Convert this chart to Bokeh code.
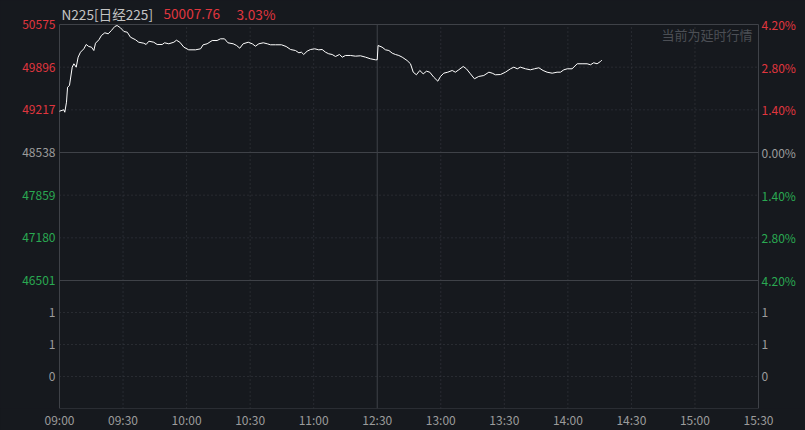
from bokeh.plotting import figure
from bokeh.models import Range1d, FixedTicker, GlobalInlineStyleSheet
from bokeh.core.properties import value
from bokeh.embed import file_html
from bokeh.resources import INLINE

# ---------------- data ----------------
index_name = "N225[日经225]"
prev_close = 48538
watermark = "当前为延时行情"

# trading minutes since 09:00 (11:30 and 12:30 share index 150)
minutes = [0, 2.0, 2.5, 3.3, 3.8, 4.7, 6.0, 6.8, 7.9, 8.8,
           9.9, 11.5, 12.6, 13.8, 15.1, 16.2, 17.0, 18.6, 19.8, 21.4,
           23.0, 24.5, 26.1, 27.2, 28.8, 30.4, 32.0, 33.5, 35.9, 37.4,
           39.8, 40.9, 42.2, 44.5,
           46.1, 48.5, 49.6, 51.6, 54.0, 55.2, 56.8, 58.7, 61.0, 64.2,
           66.6, 67.8, 69.7, 72.1, 74.4, 76.0, 77.9, 79.5, 82.0, 83.6,
           85.1, 86.7, 89.1, 91.0, 92.5, 94.1, 96.2, 98.1,
           99.6, 102.0, 104.8, 107.0, 109.1, 111.4, 113.0, 114.2, 115.3, 116.9,
           118.5, 120.5, 122.4, 124.0, 125.6, 127.1, 128.7, 130.3, 132.2, 133.5,
           135.0, 137.4, 139.7, 142.1, 144.5, 146.8, 149.2, 150.0,
           150.4, 152.3, 153.9, 155.5, 157.1, 158.6, 160.2, 161.8, 164.1, 165.7,
           167.0, 168.5, 170.1, 171.7, 173.3, 174.8, 176.7, 178.6, 179.9, 181.4,
           183.3, 185.4, 186.9, 188.5, 190.6, 192.1, 194.0, 195.9, 197.9, 200.3,
           202.7, 204.3, 205.8, 208.2, 210.5, 212.9, 214.5, 216.1, 217.6, 220.0,
           222.3, 224.2, 226.3, 228.3, 230.2, 232.6, 234.9, 236.5, 238.1, 239.7,
           242.0, 244.4, 246.7, 249.1, 250.7, 252.2, 253.8, 255.4, 256.0]

prices = [49195, 49218, 49179, 49339, 49577, 49604, 49896, 49950, 49896, 50055,
          50134, 50188, 50257, 50225, 50214, 50161, 50277, 50332, 50400, 50443,
          50427, 50480, 50543, 50559, 50522, 50464, 50452, 50373, 50332, 50293,
          50277, 50257, 50309, 50293,
          50257, 50257, 50284, 50268, 50293, 50325, 50293, 50214, 50172, 50172,
          50188, 50252, 50268, 50320, 50320, 50347, 50347, 50284, 50268, 50241,
          50198, 50268, 50293, 50268, 50230, 50268, 50284, 50268,
          50252, 50252, 50252, 50225, 50177, 50161, 50125, 50134, 50098, 50150,
          50177, 50188, 50172, 50177, 50134, 50109, 50098, 50066, 50098, 50055,
          50082, 50082, 50071, 50077, 50055, 50029, 50013, 50013,
          50241, 50214, 50172, 50161, 50118, 50098, 50082, 50055, 50002, 49950,
          49816, 49775, 49843, 49790, 49832, 49816, 49736, 49673, 49748, 49800,
          49816, 49843, 49816, 49854, 49907, 49870, 49790, 49711, 49748, 49763,
          49816, 49800, 49775, 49779, 49816, 49870, 49896, 49870, 49896, 49870,
          49854, 49870, 49886, 49843, 49816, 49800, 49816, 49816, 49854, 49870,
          49870, 49950, 49950, 49950, 49934, 49966, 49950, 49986, 50007.76]

price_ticks = [50575, 49896, 49217, 48538, 47859, 47180, 46501]
vol_tick_labels = ["1", "1", "0"]
time_ticks = [0, 30, 60, 90, 120, 150, 180, 210, 240, 270, 300, 330]
time_labels = ["09:00", "09:30", "10:00", "10:30", "11:00", "12:30",
               "13:00", "13:30", "14:00", "14:30", "15:00", "15:30"]

# ---------------- style / layout ----------------
W, H = 805, 430
FL, FR, FT, FB = 59, 758, 24, 408      # plot-area edges in canvas pixels
BG = "#16191e"
FRAME = "#3f4248"
GRID = "#3b3e45"
RED = "#e0363e"
GREEN = "#2aa952"
GRAY = "#9c9c9c"
FONT = "Noto Sans CJK SC"

x_lo, x_hi = time_ticks[0], time_ticks[-1]
split = time_ticks[5]
y_hi = max(price_ticks)
p_lo = min(price_ticks)
y_lo = p_lo - (y_hi - p_lo) / 2.0          # volume pane below price pane
vol_step = (p_lo - y_lo) / 4.0
vol_ticks = [y_lo + vol_step * k for k in (3, 2, 1)]


def dx(px):
    return x_lo + (px - FL) / (FR - FL) * (x_hi - x_lo)


def dy(py):
    return y_hi - (py - FT) / (FB - FT) * (y_hi - y_lo)


# frame spans the full canvas width and everything above the time axis
p = figure(width=W, height=H, output_backend="svg", toolbar_location=None,
           x_range=Range1d(dx(0), dx(W)), y_range=Range1d(y_lo, dy(0)),
           y_axis_location=None,
           min_border_left=0, min_border_right=0, min_border_top=0,
           min_border_bottom=H - FB)
p.stylesheets = [GlobalInlineStyleSheet(
    css=f"html,body{{margin:0;padding:0;overflow:hidden;background:{BG};}}")]
p.background_fill_color = BG
p.border_fill_color = BG
p.outline_line_color = None
for g in p.grid:
    g.visible = False

# time axis
ax = p.xaxis[0]
ax.ticker = FixedTicker(ticks=time_ticks)
ax.major_label_overrides = {t: l for t, l in zip(time_ticks, time_labels)}
ax.axis_line_color = None
ax.major_tick_line_color = None
ax.minor_tick_line_color = None
ax.major_tick_out = 0
ax.major_tick_in = 0
ax.major_label_standoff = 2
ax.major_label_text_line_height = 1.0
ax.major_label_text_color = GRAY
ax.major_label_text_font = FONT
ax.major_label_text_font_size = "12px"

# dotted grid
vg = [t for t in time_ticks[1:-1] if t != split]
p.segment(x0=vg, x1=vg, y0=[y_lo] * len(vg), y1=[y_hi] * len(vg),
          line_color=GRID, line_dash="1 3", line_width=1)
hg = [t for t in price_ticks if t not in (y_hi, p_lo, prev_close)] + vol_ticks
p.segment(x0=[x_lo] * len(hg), x1=[x_hi] * len(hg), y0=hg, y1=hg,
          line_color=GRID, line_dash="1 3", line_width=1)
# solid separators
p.segment(x0=[x_lo, x_lo, split], x1=[x_hi, x_hi, split],
          y0=[prev_close, p_lo, y_lo], y1=[prev_close, p_lo, y_hi],
          line_color=FRAME, line_width=1)
# plot-area border
p.quad(left=[x_lo], right=[x_hi], bottom=[y_lo], top=[y_hi],
       fill_color=None, line_color=FRAME, line_width=1)

# price line
p.line(minutes, prices, line_color="white", line_width=1)

# y labels
cols = [RED if v > prev_close else (GRAY if v == prev_close else GREEN) for v in price_ticks]
left_txt = [str(v) for v in price_ticks] + vol_tick_labels
right_txt = [f"{abs(v / prev_close - 1) * 100:.2f}%" for v in price_ticks] + vol_tick_labels
ys = price_ticks + vol_ticks
all_cols = cols + [GRAY] * len(vol_ticks)
p.text(x=[dx(55)] * len(ys), y=ys, text=left_txt, text_color=all_cols,
       text_align="right", text_baseline="middle",
       text_font=value(FONT), text_font_size="12px")
p.text(x=[dx(761)] * len(ys), y=ys, text=right_txt, text_color=all_cols,
       text_align="left", text_baseline="middle",
       text_font=value(FONT), text_font_size="12px")

# header
last = prices[-1]
chg = (last / prev_close - 1) * 100
p.text(x=[dx(61), dx(163), dx(236)], y=[dy(13)] * 3,
       text=[index_name, f"{last:.2f}", f"{chg:.2f}%"],
       text_color=["#c4c4c4", RED, RED],
       text_align="left", text_baseline="middle",
       text_font=value(FONT), text_font_size="13.6px")
p.text(x=[dx(752)], y=[dy(34)], text=[watermark], text_color="#4c4f55",
       text_align="right", text_baseline="middle",
       text_font=value(FONT), text_font_size="13px")

open("out.html", "w").write(file_html(p, INLINE))
